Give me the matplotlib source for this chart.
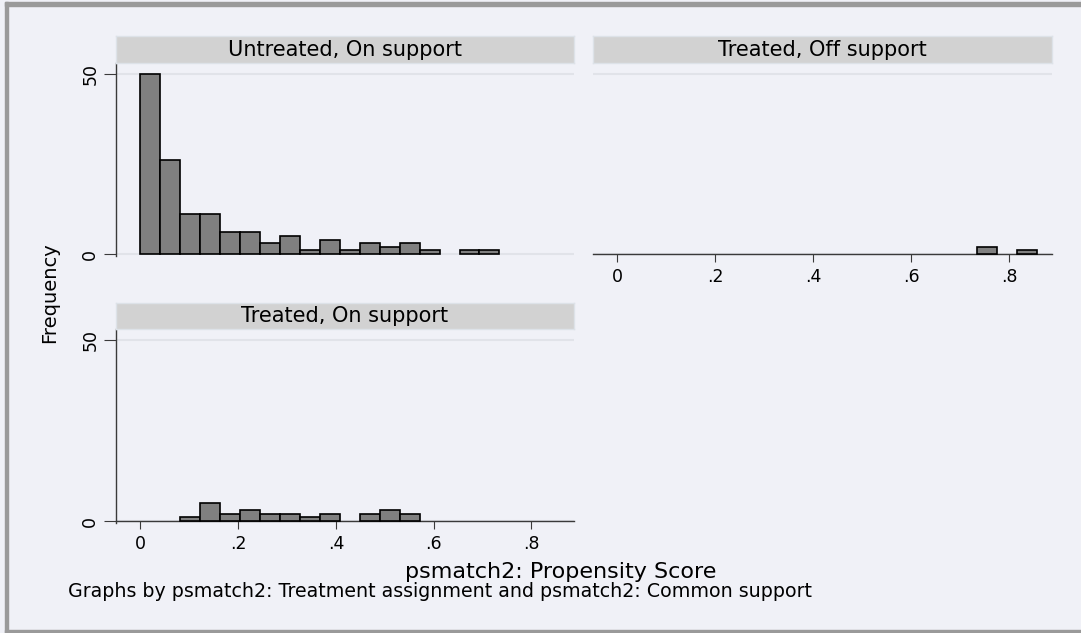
import numpy as np
import matplotlib.pyplot as plt
from matplotlib.patches import Rectangle

# histogram bins shared by all panels (Stata picks them from the data)
bin_start = 0.0
bin_width = 0.0408

panel_titles = ['Untreated, On support', 'Treated, Off support', 'Treated, On support']
untreated_on = [50, 26, 11, 11, 6, 6, 3, 5, 1, 4, 1, 3, 2, 3, 1, 0, 1, 1, 0, 0, 0]
treated_off = [0, 0, 0, 0, 0, 0, 0, 0, 0, 0, 0, 0, 0, 0, 0, 0, 0, 0, 2, 0, 1]
treated_on = [0, 0, 1, 5, 2, 3, 2, 2, 1, 2, 0, 2, 3, 2, 0, 0, 0, 0, 0, 0, 0]
x_ticks = [0, 0.2, 0.4, 0.6, 0.8]
x_ticklabels = ['0', '.2', '.4', '.6', '.8']
y_ticks = [0, 50]

BG = '#F0F1F7'
STRIP = '#D2D2D2'
BAR = '#808080'
GRID = '#E1E3E9'
AXIS = '#3A3A3A'

W, H = 1081, 633
fig = plt.figure(figsize=(W / 100, H / 100), dpi=100, facecolor=BG)


def box(x0, y0, x1, y1):
    # pixel box (top-left origin) -> figure fraction rect
    return [x0 / W, 1 - y1 / H, (x1 - x0) / W, (y1 - y0) / H]


def panel(rect, strip_rect, counts, title, show_x, show_y):
    ax = fig.add_axes(box(*rect))
    ax.set_facecolor(BG)
    counts = np.array(counts)
    edges = bin_start + bin_width * np.arange(len(counts))
    keep = counts > 0
    ax.bar(edges[keep], counts[keep], width=bin_width, align='edge',
           color=BAR, edgecolor='black', linewidth=1.2, zorder=3)
    for y in y_ticks:
        ax.axhline(y, color=GRID, linewidth=1.5, zorder=1)
    ax.set_xlim(-0.05, 0.887)
    ax.set_ylim(-0.55, 53.05)
    for s in ['top', 'right']:
        ax.spines[s].set_visible(False)
    ax.spines['left'].set_visible(show_y)
    ax.spines['bottom'].set_visible(show_x)
    for s in ['left', 'bottom']:
        ax.spines[s].set_color(AXIS)
        ax.spines[s].set_linewidth(1.0)
    ax.spines['bottom'].set_position(('data', 0))
    if show_x:
        ax.set_xticks(x_ticks)
        ax.set_xticklabels(x_ticklabels, fontsize=12.5)
        ax.tick_params(axis='x', length=6, color=AXIS, pad=4)
    else:
        ax.set_xticks([])
    if show_y:
        ax.set_yticks(y_ticks)
        ax.set_yticklabels([str(v) for v in y_ticks], fontsize=12.5,
                           rotation=90, va='center')
        ax.tick_params(axis='y', length=9, color=AXIS, pad=3)
    else:
        ax.set_yticks([])

    sax = fig.add_axes(box(*strip_rect))
    sax.set_facecolor(STRIP)
    sax.set_xticks([])
    sax.set_yticks([])
    for s in sax.spines.values():
        s.set_color('#DDE2E8')
        s.set_linewidth(1.0)
    sax.text(0.5, 0.5, title, ha='center', va='center', fontsize=15,
             transform=sax.transAxes)
    return ax


panel((116, 63, 574, 256), (116, 36, 574, 63), untreated_on, panel_titles[0], False, True)
panel((593, 63, 1052, 256), (593, 36, 1052, 63), treated_off, panel_titles[1], True, False)
panel((116, 329, 574, 523), (116, 303, 574, 329), treated_on, panel_titles[2], True, True)

fig.text(50 / W, 1 - 293 / H, 'Frequency', rotation=90, ha='center', va='center', fontsize=14)
fig.text(561 / W, 1 - 578 / H, 'psmatch2: Propensity Score', ha='center', va='baseline', fontsize=16)
fig.text(68 / W, 1 - 597 / H, 'Graphs by psmatch2: Treatment assignment and psmatch2: Common support',
         ha='left', va='baseline', fontsize=13.7)

# outer frame of the graph window
for r in [(5, 2, W, 5.5), (5, 2, 8, H), (5, 630, W, H)]:
    x0, y0, x1, y1 = r
    fig.patches.append(Rectangle((x0 / W, 1 - y1 / H), (x1 - x0) / W, (y1 - y0) / H,
                                 transform=fig.transFigure, color='#9A9A9A', zorder=10))

fig.savefig('out.png', dpi=100, facecolor=BG)
